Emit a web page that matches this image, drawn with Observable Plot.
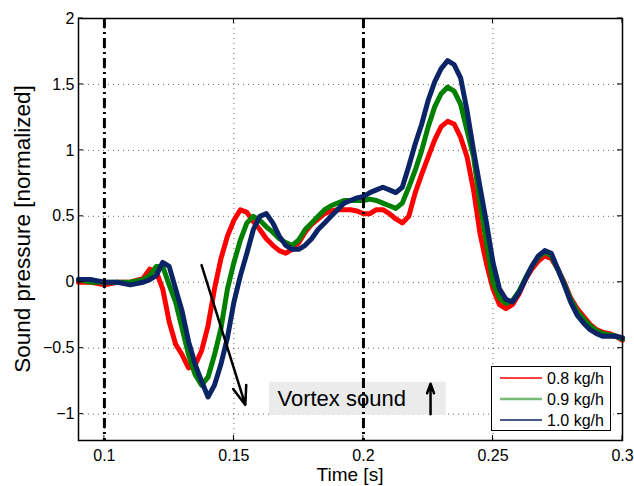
<!DOCTYPE html>
<html><head><meta charset="utf-8">
<script src="https://cdn.jsdelivr.net/npm/d3@7"></script>
<script src="https://cdn.jsdelivr.net/npm/@observablehq/plot@0.6"></script>
<style>
body{margin:0;background:#fff;font-family:"Liberation Sans",Arial,sans-serif;}
#wrap{position:relative;width:634px;height:486px;}
#legend{position:absolute;left:491px;top:366px;width:118px;height:63px;border:1.5px solid #000;background:#fff;}
</style></head><body><div id="wrap"></div>
<script>
const time = [0.09,0.095,0.1,0.105,0.11,0.115,0.1175,0.12,0.1225,0.125,0.1275,0.13,0.1325,0.135,0.1375,0.14,0.1425,0.145,0.1475,0.15,0.1525,0.155,0.1575,0.16,0.1625,0.165,0.1675,0.17,0.1725,0.175,0.1775,0.18,0.1825,0.185,0.1875,0.19,0.1925,0.195,0.1975,0.2,0.2025,0.205,0.2075,0.21,0.2125,0.215,0.2175,0.22,0.2225,0.225,0.2275,0.23,0.2325,0.235,0.2375,0.24,0.2425,0.245,0.2475,0.25,0.2525,0.255,0.2575,0.26,0.2625,0.265,0.2675,0.27,0.2725,0.275,0.2775,0.28,0.2825,0.285,0.2875,0.29,0.2925,0.295,0.2975,0.3];
const flow08 = [0.0,0.0,-0.02,0.0,0.0,0.03,0.1,0.08,-0.05,-0.3,-0.47,-0.55,-0.65,-0.63,-0.52,-0.33,-0.05,0.18,0.35,0.47,0.55,0.53,0.46,0.4,0.33,0.28,0.24,0.22,0.25,0.3,0.38,0.44,0.48,0.52,0.54,0.55,0.55,0.55,0.54,0.52,0.52,0.55,0.55,0.52,0.48,0.45,0.5,0.68,0.82,0.95,1.08,1.18,1.22,1.2,1.1,0.95,0.7,0.37,0.14,-0.05,-0.17,-0.2,-0.17,-0.09,0.02,0.1,0.16,0.2,0.18,0.1,0.0,-0.12,-0.2,-0.26,-0.32,-0.36,-0.38,-0.39,-0.41,-0.44];
const flow09 = [0.02,0.0,0.0,0.0,0.0,0.02,0.05,0.12,0.12,-0.02,-0.15,-0.35,-0.55,-0.7,-0.78,-0.72,-0.55,-0.35,-0.05,0.15,0.32,0.45,0.5,0.47,0.42,0.38,0.33,0.3,0.28,0.32,0.4,0.45,0.5,0.55,0.58,0.6,0.62,0.62,0.62,0.62,0.63,0.62,0.6,0.58,0.56,0.6,0.72,0.85,1.0,1.18,1.33,1.43,1.48,1.45,1.35,1.15,0.95,0.6,0.3,0.0,-0.12,-0.16,-0.14,-0.07,0.03,0.12,0.19,0.23,0.2,0.1,-0.01,-0.13,-0.22,-0.28,-0.33,-0.37,-0.39,-0.4,-0.41,-0.43];
const flow10 = [0.02,0.02,0.0,0.0,-0.02,0.0,0.02,0.05,0.15,0.12,-0.05,-0.22,-0.45,-0.62,-0.75,-0.87,-0.78,-0.62,-0.42,-0.15,0.05,0.22,0.4,0.5,0.52,0.45,0.35,0.28,0.25,0.25,0.28,0.33,0.4,0.45,0.5,0.55,0.6,0.62,0.64,0.65,0.68,0.7,0.72,0.7,0.68,0.72,0.88,1.05,1.2,1.38,1.52,1.62,1.68,1.65,1.55,1.3,1.0,0.72,0.45,0.15,-0.05,-0.13,-0.15,-0.08,0.02,0.12,0.2,0.24,0.22,0.1,-0.02,-0.15,-0.25,-0.31,-0.36,-0.39,-0.41,-0.41,-0.41,-0.42];
const seriesNames = ["0.8 kg/h","0.9 kg/h","1.0 kg/h"];
const seriesColors = ["#ff0000","#008000","#0b2466"];
const legendColors = ["#ff0000","#74bb74","#0b2466"];
const xTicks = [0.1,0.15,0.2,0.25,0.3];
const yTicks = [-1,-0.5,0,0.5,1,1.5,2];
const markerTimes = [0.1,0.2];
const arrows = [{x1:0.1375,y1:0.13,x2:0.1544,y2:-0.93},{x1:0.2259,y1:-1.0,x2:0.2259,y2:-0.77}];
const noteBox = [{x1:0.1637,x2:0.2320,y1:-1.008,y2:-0.758}];
const noteText = [{x:0.1668,y:-0.883,text:"Vortex sound"}];

const allSeries = [flow08, flow09, flow10];
const rows = allSeries.map((vals, k) => time.map((t, i) => ({t, v: vals[i], s: seriesNames[k]})));
const fmt = d => (d < 0 ? "\u2212" : "") + String(Math.abs(d));

const chart = Plot.plot({
  width: 634, height: 486,
  marginLeft: 78, marginRight: 12, marginTop: 18, marginBottom: 46,
  style: {fontFamily: "Liberation Sans, Arial, sans-serif", fontSize: "16px", background: "#fff", color: "#000"},
  x: {domain: [0.09, 0.3]},
  y: {domain: [-1.2, 2]},
  marks: [
    Plot.gridX(xTicks, {stroke: "#000", strokeOpacity: 0.6, strokeDasharray: "1,4"}),
    Plot.gridY(yTicks, {stroke: "#000", strokeOpacity: 0.6, strokeDasharray: "1,4"}),
    Plot.rect(noteBox, {x1: "x1", x2: "x2", y1: "y1", y2: "y2", fill: "#ebebeb"}),
    Plot.text(noteText, {x: "x", y: "y", text: "text", textAnchor: "start", fontSize: 22, fill: "#000"}),
    ...rows.map((r, k) => Plot.line(r, {x: "t", y: "v", stroke: seriesColors[k], strokeWidth: 5, strokeLinejoin: "round"})),
    Plot.ruleX(markerTimes, {stroke: "#000", strokeWidth: 3, strokeDasharray: "10,4,2,4"}),
    Plot.arrow(arrows, {x1: "x1", y1: "y1", x2: "x2", y2: "y2", stroke: "#000", strokeWidth: 2.5, headLength: 12, headAngle: 40}),
    Plot.axisX(xTicks, {anchor: "bottom", tickSize: 0, tickPadding: 9, tickFormat: fmt, fontSize: 16, label: null}),
    Plot.axisY(yTicks, {anchor: "left", tickSize: 0, tickPadding: 4, tickFormat: fmt, fontSize: 16, label: null}),
    Plot.frame({stroke: "#000", strokeWidth: 1.5})
  ]
});

const svg = d3.select(chart);
const sx = chart.scale("x"), sy = chart.scale("y");
const [xl, xr] = sx.range, [yb, yt] = sy.range;
const tl = 5;
const tg = svg.append("g").attr("stroke", "#000").attr("stroke-width", 1);
xTicks.forEach(v => {
  const px = sx.apply(v);
  tg.append("line").attr("x1", px).attr("x2", px).attr("y1", yb).attr("y2", yb - tl);
  tg.append("line").attr("x1", px).attr("x2", px).attr("y1", yt).attr("y2", yt + tl);
});
yTicks.forEach(v => {
  const py = sy.apply(v);
  tg.append("line").attr("y1", py).attr("y2", py).attr("x1", xl).attr("x2", xl + tl);
  tg.append("line").attr("y1", py).attr("y2", py).attr("x1", xr).attr("x2", xr - tl);
});
svg.append("text").attr("x", (xl + xr) / 2).attr("y", 481).attr("text-anchor", "middle")
  .attr("font-size", 19).attr("fill", "#000").text("Time [s]");
svg.append("text").attr("transform", `translate(30,${(yb + yt) / 2}) rotate(-90)`).attr("text-anchor", "middle")
  .attr("font-size", 22.5).attr("fill", "#000").text("Sound pressure [normalized]");

const wrap = document.getElementById("wrap");
wrap.appendChild(chart);

const legend = d3.select(wrap).append("div").attr("id", "legend");
const lsvg = legend.append("svg").attr("width", 118).attr("height", 63);
seriesNames.forEach((name, k) => {
  const y = 11 + k * 21;
  lsvg.append("line").attr("x1", 8).attr("x2", 50).attr("y1", y).attr("y2", y)
    .attr("stroke", legendColors[k]).attr("stroke-width", k === 1 ? 2.5 : 1.3);
  lsvg.append("text").attr("x", 55).attr("y", y).attr("dy", "0.35em").attr("font-size", 16)
    .attr("font-family", "Liberation Sans, Arial, sans-serif").attr("fill", "#000").text(name);
});
</script></body></html>
